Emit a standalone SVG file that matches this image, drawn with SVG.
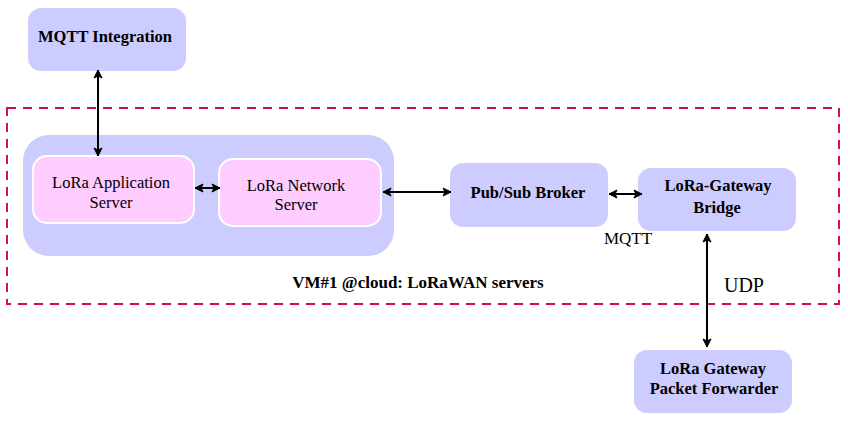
<svg xmlns="http://www.w3.org/2000/svg" width="848" height="421" viewBox="0 0 848 421">
<style>
.n{fill:#ccccff;}
.p{fill:#ffccff;stroke:#ffffff;stroke-width:2;}
.t{font-family:'Liberation Serif','Times New Roman','DejaVu Serif',serif;font-size:16.5px;fill:#000;text-anchor:middle;}
.b{font-weight:bold;}
.c{stroke:#000;stroke-width:2;fill:none;marker-start:url(#a);marker-end:url(#a);}
</style>
<defs>
<marker id="a" viewBox="0 0 10 10" refX="9" refY="5" markerWidth="5" markerHeight="5" orient="auto-start-reverse" markerUnits="strokeWidth">
<path d="M1,1 L9,5 L1,9 L3,5 Z" fill="#000" stroke="#000" stroke-width="1" stroke-linejoin="round"/>
</marker>
</defs>
<rect id="vm" x="7" y="108" width="832" height="196" fill="none" stroke="#d0104c" stroke-width="2" stroke-dasharray="9,7"/>
<text class="t b" x="418" y="288" style="font-size:17px">VM#1 @cloud: LoRaWAN servers</text>
<g id="mqtt-integration"><rect class="n" x="28" y="8" width="158" height="63" rx="13"/><text class="t b" x="105" y="42">MQTT Integration</text></g>
<g id="container"><rect class="n" x="23" y="135" width="371" height="121" rx="26"/></g>
<g id="app-server"><rect class="p" x="33" y="156" width="161" height="67" rx="14"/><text class="t" x="111" y="188">LoRa Application</text><text class="t" x="111" y="208">Server</text></g>
<g id="network-server"><rect class="p" x="219" y="159" width="162" height="67" rx="14"/><text class="t" x="296" y="191">LoRa Network</text><text class="t" x="296" y="210">Server</text></g>
<g id="broker"><rect class="n" x="450" y="163" width="158" height="64" rx="13"/><text class="t b" x="528" y="198">Pub/Sub Broker</text></g>
<g id="bridge"><rect class="n" x="638" y="168" width="158" height="63" rx="13"/><text class="t b" x="718" y="191">LoRa-Gateway</text><text class="t b" x="717" y="213">Bridge</text></g>
<g id="forwarder"><rect class="n" x="634" y="350" width="158" height="63" rx="13"/><text class="t b" x="713" y="374">LoRa Gateway</text><text class="t b" x="714" y="394">Packet Forwarder</text></g>
<g id="connectors">
<line class="c" x1="98" y1="70" x2="98" y2="156"/>
<line class="c" x1="195" y1="188" x2="220" y2="188"/>
<line class="c" x1="383" y1="192" x2="451" y2="192"/>
<line class="c" x1="609" y1="194" x2="642" y2="194"/>
<line class="c" x1="707" y1="234" x2="707" y2="347"/>
<text class="t" x="628" y="244" style="font-size:17px">MQTT</text>
<text class="t" x="744" y="292" style="font-size:20px">UDP</text>
</g>
</svg>
